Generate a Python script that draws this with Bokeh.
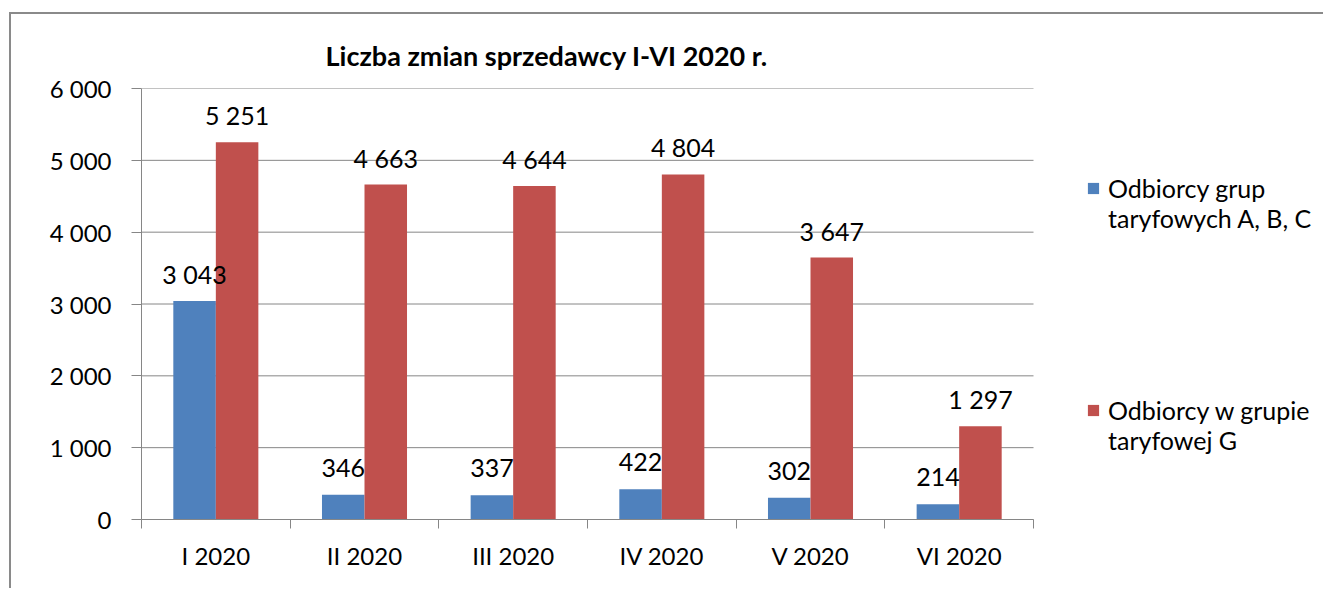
from bokeh.plotting import figure
from bokeh.models import (ColumnDataSource, Range1d, FixedTicker, Title, Legend, LegendItem)
from bokeh.core.properties import value
from bokeh.embed import file_html
from bokeh.resources import INLINE

categories = ["I 2020", "II 2020", "III 2020", "IV 2020", "V 2020", "VI 2020"]
series_names = ["Odbiorcy grup\ntaryfowych A, B, C", "Odbiorcy w grupie\ntaryfowej G"]
abc_values = [3043, 346, 337, 422, 302, 214]
g_values = [5251, 4663, 4644, 4804, 3647, 1297]
y_ticks = [0, 1000, 2000, 3000, 4000, 5000, 6000]
y_tick_labels = ["0", "1 000", "2 000", "3 000", "4 000", "5 000", "6 000"]
title_text = "Liczba zmian sprzedawcy I-VI 2020 r."

FONT = "Lato"
BLUE = "#4F81BD"
RED = "#C0504D"
GRAY = "#868686"

def fmt(v):
    return f"{v:,}".replace(",", " ")

n = len(categories)
centers = [i + 0.5 for i in range(n)]
bw = 0.286

# layout (pixels)
W, H = 1314, 576
LEFT, TOP, BOTTOM = 130, 74, 71
PLOT_W = 892                      # width used by the six categories
FRAME_W = W - LEFT                # frame extends under the legend area
x_end = n * FRAME_W / PLOT_W

src_a = ColumnDataSource(dict(x=[c - bw / 2 for c in centers], top=abc_values,
                              lab=[fmt(v) for v in abc_values]))
src_g = ColumnDataSource(dict(x=[c + bw / 2 for c in centers], top=g_values,
                              lab=[fmt(v) for v in g_values]))

p = figure(width=W, height=H, output_backend="svg", toolbar_location=None,
           x_range=Range1d(0, x_end), y_range=Range1d(0, 6000),
           min_border_left=LEFT, min_border_right=0, min_border_top=TOP,
           min_border_bottom=BOTTOM)
p.styles = {"border-top": "2px solid #8a8a8a", "border-left": "2px solid #8a8a8a",
            "margin-left": "9px", "margin-top": "12px"}
p.outline_line_color = None
p.background_fill_color = "white"
p.border_fill_color = "white"
p.xgrid.grid_line_color = None
p.ygrid.grid_line_color = None

# horizontal gridlines over the category area only
p.segment(x0=[0] * len(y_ticks), x1=[n] * len(y_ticks), y0=y_ticks, y1=y_ticks,
          line_color=GRAY, line_width=1)

ra = p.vbar(x="x", top="top", width=bw, source=src_a, fill_color=BLUE, line_color=None)
rg = p.vbar(x="x", top="top", width=bw, source=src_g, fill_color=RED, line_color=None)

for src in (src_a, src_g):
    p.text(x="x", y="top", text="lab", source=src, text_align="center",
           text_baseline="alphabetic", y_offset=-27, text_font=value(FONT),
           text_font_size="25px", text_color="black")

yax = p.yaxis[0]
yax.ticker = FixedTicker(ticks=y_ticks)
yax.major_label_overrides = {t: l for t, l in zip(y_ticks, y_tick_labels)}
yax.axis_line_color = GRAY
yax.major_tick_line_color = GRAY
yax.major_tick_out = 10
yax.major_tick_in = 0
yax.minor_tick_line_color = None
yax.major_label_standoff = 20
yax.major_label_text_font = FONT
yax.major_label_text_font_size = "24px"
yax.major_label_text_color = "black"

xax = p.xaxis[0]
xax.bounds = (0, n)
xax.ticker = FixedTicker(ticks=centers, minor_ticks=list(range(n + 1)))
xax.major_label_overrides = {c: cat for c, cat in zip(centers, categories)}
xax.axis_line_color = GRAY
xax.major_tick_line_color = None
xax.major_tick_out = 0
xax.major_tick_in = 0
xax.minor_tick_line_color = GRAY
xax.minor_tick_out = 9
xax.minor_tick_in = 0
xax.major_label_standoff = 12
xax.major_label_text_font = FONT
xax.major_label_text_font_size = "24px"
xax.major_label_text_color = "black"

# title
p.add_layout(Title(text=title_text, align="left", offset=184, standoff=33,
                   text_font=FONT, text_font_style="bold", text_font_size="27px",
                   text_color="black"), "above")

# legend: a leading blank line keeps each square level with the first text line
legend = Legend(items=[LegendItem(label="\n" + series_names[0], renderers=[ra]),
                       LegendItem(label="\n" + series_names[1], renderers=[rg])],
                location=(945, 64), orientation="vertical")
legend.border_line_color = None
legend.background_fill_alpha = 0
legend.padding = 0
legend.margin = 0
legend.spacing = 132
legend.glyph_width = 14
legend.glyph_height = 14
legend.label_standoff = 8
legend.label_text_font = FONT
legend.label_text_font_size = "25px"
legend.label_text_line_height = 1.32
legend.label_text_color = "black"
p.add_layout(legend, "center")

open("out.html", "w").write(file_html(p, INLINE))
